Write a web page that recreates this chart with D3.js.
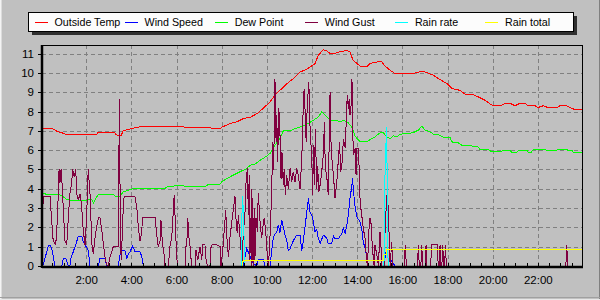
<!DOCTYPE html>
<html>
<head>
<meta charset="utf-8">
<script src="https://cdnjs.cloudflare.com/ajax/libs/d3/7.8.5/d3.min.js"></script>
<style>
  body { margin: 0; background: #c0c0c0; }
  text { font-family: "Liberation Sans", Arial, sans-serif; fill: #000; }
</style>
</head>
<body>
<div id="chart"></div>
<script>
// series names + colours (legend order)
const seriesNames = ['Outside Temp', 'Wind Speed', 'Dew Point', 'Wind Gust', 'Rain rate', 'Rain total'];
const seriesColors = ['#ff0000', '#0000ff', '#00ff00', '#800040', '#00ffff', '#ffff00'];

// axis ticks
const hourTicks = [2, 4, 6, 8, 10, 12, 14, 16, 18, 20, 22];
const valueTicks = [0, 1, 2, 3, 4, 5, 6, 7, 8, 9, 10, 11];

// times are decimal hours
const tempTime = [0, 0.10, 0.53, 0.75, 0.93, 1.15, 2.47, 2.51, 3.28, 3.31, 3.54, 3.64, 3.94, 4.30, 5.58, 6.29, 6.33, 7.48, 7.57, 7.93,
  8.02, 8.37, 8.67, 8.96, 9.26, 9.57, 9.83, 10.14, 10.36, 10.58, 10.89, 11.17, 11.47, 11.78, 12.13, 12.27, 12.49, 12.67, 12.80, 13.10,
  13.24, 13.54, 13.68, 13.82, 13.99, 14.13, 14.44, 14.57, 14.88, 15.10, 15.24, 15.46, 15.68, 16.47, 16.87, 17.14, 17.37, 17.67, 17.98, 18.20,
  18.56, 18.78, 19.09, 19.37, 19.66, 19.97, 20.33, 20.55, 20.77, 20.99, 21.21, 21.44, 21.57, 21.88, 22.01, 22.23, 22.45, 22.85, 22.98, 23.29,
  23.43, 23.65, 23.96];
const tempValue = [7.2, 7.1, 7.1, 6.95, 6.9, 6.8, 6.8, 6.9, 6.9, 6.8, 6.75, 7.0, 7.1, 7.2, 7.25, 7.25, 7.2, 7.2, 7.1, 7.1,
  7.2, 7.38, 7.47, 7.64, 7.7, 7.9, 8.16, 8.5, 8.85, 9.1, 9.45, 9.7, 10.05, 10.2, 10.48, 10.9, 11.2, 11.14, 11.0, 11.04,
  11.1, 11.17, 11.1, 10.65, 10.5, 10.35, 10.35, 10.5, 10.57, 10.57, 10.35, 10.14, 9.97, 9.97, 10.09, 10.0, 9.88, 9.66, 9.45, 9.19,
  9.1, 8.9, 8.9, 8.76, 8.59, 8.33, 8.3, 8.43, 8.43, 8.3, 8.43, 8.43, 8.3, 8.3, 8.21, 8.3, 8.21, 8.21, 8.3, 8.3,
  8.21, 8.1, 8.1];

const dewTime = [0, 0.25, 0.75, 0.92, 1.14, 1.28, 2.02, 2.25, 2.32, 2.47, 2.54, 3.20, 3.28, 3.50, 3.64, 3.94, 4.09, 5.49, 5.58, 5.85,
  5.98, 6.16, 7.04, 7.35, 7.41, 7.93, 8.00, 8.22, 8.52, 8.81, 9.11, 9.26, 9.48, 9.70, 9.99, 10.14, 10.36, 10.58, 10.73, 11.03,
  11.17, 11.47, 11.77, 12.06, 12.28, 12.43, 12.58, 12.72, 12.87, 13.10, 13.24, 13.39, 13.61, 13.76, 13.91, 14.13, 14.42, 14.57, 14.79, 15.01,
  15.16, 15.31, 15.46, 15.60, 15.75, 15.90, 16.47, 16.71, 16.86, 17.01, 17.23, 17.37, 17.67, 17.82, 18.11, 18.19, 18.48, 18.63, 19.00, 19.15,
  19.35, 19.44, 19.80, 19.96, 20.33, 20.47, 20.77, 20.85, 21.07, 21.14, 21.51, 21.58, 21.70, 21.80, 22.17, 22.40, 22.84, 22.91, 23.21, 23.35,
  23.50, 23.57, 23.96];
const dewValue = [3.81, 3.71, 3.71, 3.64, 3.45, 3.41, 3.41, 3.45, 3.27, 3.59, 3.71, 3.71, 3.62, 3.62, 3.84, 3.96, 4.02, 4.02, 4.1, 4.12,
  4.2, 4.15, 4.12, 4.15, 4.24, 4.24, 4.36, 4.53, 4.71, 4.88, 5.05, 5.22, 5.28, 5.48, 5.69, 5.83, 6.26, 6.6, 7.0, 7.0,
  7.09, 7.2, 7.35, 7.55, 7.72, 7.98, 7.81, 7.64, 7.52, 7.55, 7.47, 7.55, 7.41, 7.2, 6.72, 6.43, 6.43, 6.55, 6.69, 6.9,
  6.9, 6.69, 6.6, 6.75, 6.69, 6.83, 6.9, 7.04, 7.24, 7.04, 6.95, 6.83, 6.78, 6.66, 6.66, 6.43, 6.38, 6.26, 6.26, 6.17,
  6.17, 6.04, 6.04, 5.91, 5.91, 6.0, 6.0, 5.88, 5.88, 6.0, 6.0, 5.88, 5.88, 6.04, 6.04, 6.0, 6.0, 6.04, 6.04, 6.0,
  6.0, 5.88, 5.88];

const windTime = [0, 0.10, 0.32, 0.40, 0.47, 0.62, 0.92, 0.99, 1.09, 1.21, 1.28, 1.32, 1.43, 1.58, 1.65, 1.80, 1.87, 1.95, 2.09, 2.17,
  2.54, 2.61, 2.83, 2.91, 3.42, 3.53, 3.72, 3.80, 3.87, 3.94, 4.06, 4.16, 4.38, 4.46, 4.53, 8.96, 9.11, 9.26, 9.40, 9.55,
  9.62, 9.85, 9.92, 10.14, 10.22, 10.29, 10.44, 10.51, 10.58, 10.66, 10.81, 10.89, 10.95, 11.03, 11.17, 11.32, 11.47, 11.55, 11.62, 11.77,
  11.84, 11.91, 11.99, 12.06, 12.13, 12.21, 12.28, 12.36, 12.50, 12.65, 12.72, 12.87, 12.95, 13.02, 13.17, 13.32, 13.39, 13.47, 13.54, 13.61,
  13.68, 13.76, 13.80, 13.83, 13.91, 13.98, 14.13, 14.20, 14.27, 14.35, 14.42, 14.50, 15.16, 15.24, 15.31, 15.38, 15.46, 15.54, 15.68, 23.96];
const windValue = [0, 0.05, 1.03, 1.09, 0.95, 0, 0, 0.4, 0.4, 0, 0, 0.4, 0.74, 1.26, 1.55, 1.55, 1.26, 1.09, 0.83, 0,
  0, 0.4, 0.4, 0, 0, 0.79, 0.79, 0.4, 0.6, 0.74, 1.03, 0.74, 0.74, 0.5, 0, 0, 0.91, 0.48, 0.14, 0,
  0.35, 0.35, 0, 0, 0.83, 1.52, 1.77, 2.12, 1.72, 2.38, 1.6, 1.26, 0.8, 0.9, 1.3, 1.6, 1.6, 0.8, 1.34, 2.8,
  3.5, 2.81, 2.64, 2.29, 1.77, 1.9, 1.43, 1.17, 1.6, 1.45, 1.17, 1.17, 1.55, 1.4, 1.4, 1.69, 1.95, 1.7, 2.12, 2.64,
  3.5, 4.1, 4.54, 3.93, 3.07, 2.55, 2.29, 1.95, 1.26, 0.91, 0.48, 0, 0, 0.48, 0.9, 0.3, 0.4, 0.2, 0, 0];

const gustTime = [0.08, 0.10, 0.40, 0.47, 0.54, 0.65, 0.70, 0.74, 0.80, 0.84, 0.89, 0.93, 0.99, 1.06, 1.14, 1.21, 1.28, 1.36, 1.40, 1.47,
  1.54, 1.58, 1.65, 1.73, 1.80, 1.87, 1.95, 2.02, 2.09, 2.17, 2.25, 2.32, 2.36, 2.44, 2.54, 2.61, 2.69, 2.76, 2.83, 2.91,
  2.98, 3.06, 3.20, 3.42, 3.47, 3.52, 3.56, 3.62, 3.68, 4.16, 4.24, 4.31, 4.38, 4.46, 4.49, 5.05, 5.12, 5.19, 5.27, 5.31,
  5.37, 5.46, 5.49, 5.64, 5.71, 5.79, 5.86, 5.90, 5.97, 6.01, 6.05, 6.38, 6.41, 6.45, 6.50, 6.55, 6.60, 6.67, 6.82, 6.86,
  6.94, 7.04, 7.12, 7.16, 7.26, 7.31, 7.38, 7.48, 7.53, 7.59, 7.78, 7.93, 7.97, 8.03, 8.07, 8.12, 8.18, 8.24, 8.30, 8.37,
  8.45, 8.52, 8.59, 8.64, 8.69, 8.74, 8.78, 8.84, 8.90, 8.96, 9.03, 9.08, 9.14, 9.18, 9.22, 9.25, 9.28, 9.31, 9.34, 9.37,
  9.40, 9.43, 9.46, 9.48, 9.52, 9.58, 9.62, 9.70, 9.77, 9.85, 9.89, 9.93, 9.96, 10.02, 10.07, 10.11, 10.17, 10.22, 10.26, 10.29,
  10.32, 10.36, 10.41, 10.44, 10.48, 10.53, 10.58, 10.63, 10.67, 10.73, 10.77, 10.82, 10.88, 10.95, 11.03, 11.10, 11.17, 11.25, 11.32, 11.39,
  11.47, 11.55, 11.59, 11.65, 11.69, 11.74, 11.79, 11.86, 11.91, 11.99, 12.03, 12.06, 12.10, 12.15, 12.21, 12.25, 12.30, 12.36, 12.43, 12.50,
  12.55, 12.59, 12.65, 12.72, 12.80, 12.84, 12.89, 12.95, 13.02, 13.10, 13.17, 13.22, 13.27, 13.34, 13.39, 13.47, 13.51, 13.56, 13.61, 13.65,
  13.68, 13.73, 13.77, 13.80, 13.83, 13.91, 13.95, 13.99, 14.05, 14.10, 14.13, 14.20, 14.24, 14.27, 14.35, 14.39, 14.45, 14.50, 14.54, 14.60,
  14.65, 14.69, 14.75, 14.79, 14.87, 14.94, 15.01, 15.06, 15.09, 15.19, 15.24, 15.31, 15.35, 15.40, 15.46, 15.53, 15.57, 16.08, 16.13, 16.18,
  16.67, 16.71, 16.75, 16.82, 16.86, 16.90, 17.01, 17.05, 17.09, 17.25, 17.30, 17.55, 17.59, 17.63, 17.67, 17.71, 17.75, 17.79, 17.83, 17.87,
  17.91, 17.95, 23.24, 23.28, 23.32];
const gustValue = [2.9, 3.6, 3.6, 2.4, 1.3, 1.1, 1.86, 2.9, 5.0, 4.3, 5.0, 4.3, 2.9, 1.3, 1.1, 2.5, 3.75, 4.3, 5.0, 4.6,
  5.0, 3.75, 3.4, 3.75, 3.1, 1.86, 1.1, 2.5, 5.0, 3.75, 1.15, 0.6, 1.15, 1.86, 2.5, 2.5, 1.86, 1.15, 0.48, 0.05,
  0, 0.48, 1.0, 1.0, 8.65, 1.0, 0.3, 2.46, 3.6, 3.6, 3.07, 2.0, 1.3, 1.7, 2.5, 2.5, 1.7, 1.0, 1.3, 2.4,
  1.3, 0.48, 0, 0, 1.0, 1.5, 2.9, 3.7, 1.5, 0.48, 0, 0, 1.0, 1.0, 2.5, 1.5, 1.0, 0, 0, 0.83,
  0.3, 1.0, 0.31, 1.1, 1.1, 0.3, 0, 0, 1.0, 1.1, 1.1, 1.0, 0, 0.6, 1.15, 1.94, 2.9, 1.3, 0.48, 1.5,
  2.3, 2.98, 3.6, 2.3, 1.7, 2.64, 2.0, 1.09, 0.14, 1.77, 2.64, 4.36, 5.05, 2.64, 4.71, 0.3, 2.5, 0, 4.0, 0.2,
  2.5, 0, 3.0, 0.5, 2.5, 1.77, 3.76, 2.3, 1.43, 2.3, 2.5, 2.0, 1.6, 0.57, 0, 0.8, 2.3, 4.2, 6.43, 5.0,
  6.43, 9.7, 6.43, 7.81, 5.4, 8.2, 6.95, 4.5, 5.9, 4.2, 5.05, 3.67, 4.7, 4.0, 5.05, 4.36, 4.88, 4.36, 5.05, 4.7,
  4.0, 5.57, 7.47, 9.19, 8.16, 6.43, 8.33, 9.53, 7.29, 5.57, 3.67, 6.26, 4.2, 7.12, 4.0, 5.2, 3.84, 4.2, 4.88, 5.74,
  7.47, 5.0, 4.7, 3.67, 9.02, 6.43, 5.4, 4.7, 3.5, 4.36, 5.57, 6.43, 4.88, 5.4, 6.6, 6.09, 7.29, 8.84, 8.16, 8.67,
  7.81, 8.33, 9.7, 7.29, 5.74, 6.09, 4.7, 6.09, 6.09, 4.7, 3.33, 2.64, 2.3, 1.95, 1.43, 0.74, 0, 1.09, 2.47, 2.47,
  1.43, 0.74, 0, 1.09, 0.57, 0, 1.77, 0.9, 0, 0, 1.95, 3.67, 3.67, 2.12, 0, 1.26, 0, 0, 1.09, 0,
  0, 1.09, 0, 0, 1.09, 0, 0, 1.09, 0, 0, 1.09, 1.09, 0, 0, 1.09, 0, 0, 1.09, 0, 0,
  1.09, 0, 0, 1.09, 0];

const rainRateTime = [0, 8.86, 8.90, 8.93, 8.96, 9.03, 15.16, 15.19, 15.24, 15.31, 15.35, 15.40, 23.96];
const rainRateValue = [0, 0, 2.7, 3.6, 2.7, 0, 0, 0.3, 5.4, 7.2, 0.6, 0, 0];

const rainTotalTime = [0, 8.90, 8.96, 15.16, 15.19, 15.28, 15.31, 23.96];
const rainTotalValue = [0, 0, 0.31, 0.31, 0.57, 0.57, 0.88, 0.88];

const seriesData = [
  [tempTime, tempValue],
  [windTime, windValue],
  [dewTime, dewValue],
  [gustTime, gustValue],
  [rainRateTime, rainRateValue],
  [rainTotalTime, rainTotalValue]
];

const width = 600, height = 300;
const plot = { left: 42, right: 582, top: 45, bottom: 266 };

const x = d3.scaleLinear().domain([0, 24]).range([41, 583]);
const y = d3.scaleLinear().domain([0, 11.45]).range([266, 45]);

const svg = d3.select("#chart").append("svg")
  .attr("width", width)
  .attr("height", height);

// window background with bevel
svg.append("rect").attr("width", width).attr("height", height).attr("fill", "#c0c0c0");
svg.append("line").attr("x1", 0.5).attr("x2", 0.5).attr("y1", 0).attr("y2", height)
  .attr("stroke", "#f4f4f4").attr("stroke-width", 1);
svg.append("line").attr("x1", 1.5).attr("x2", 1.5).attr("y1", 0).attr("y2", height - 1)
  .attr("stroke", "#dcdcdc").attr("stroke-width", 1);
svg.append("line").attr("x1", width - 0.5).attr("x2", width - 0.5).attr("y1", 0).attr("y2", height)
  .attr("stroke", "#808080");
svg.append("line").attr("x1", 0).attr("x2", width).attr("y1", height - 0.5).attr("y2", height - 0.5)
  .attr("stroke", "#e8e8e8");
svg.append("line").attr("x1", 0).attr("x2", width).attr("y1", height - 2.5).attr("y2", height - 2.5)
  .attr("stroke", "#a0a0a0");

// grid
const grid = svg.append("g")
  .attr("stroke", "#808080")
  .attr("stroke-dasharray", "4,3")
  .attr("shape-rendering", "crispEdges");

grid.selectAll(".h")
  .data(valueTicks.filter(d => d > 0))
  .enter().append("line")
  .attr("x1", plot.left).attr("x2", plot.right)
  .attr("y1", d => Math.round(y(d)) + 0.5).attr("y2", d => Math.round(y(d)) + 0.5);

grid.selectAll(".v")
  .data(hourTicks)
  .enter().append("line")
  .attr("x1", d => Math.round(x(d)) + 0.5).attr("x2", d => Math.round(x(d)) + 0.5)
  .attr("y1", plot.top).attr("y2", plot.bottom);

// series lines
svg.append("clipPath").attr("id", "clip")
  .append("rect")
  .attr("x", plot.left).attr("y", plot.top)
  .attr("width", plot.right - plot.left).attr("height", plot.bottom - plot.top + 1);

const line = d3.line()
  .x(d => x(d[0]))
  .y(d => y(d[1]));

svg.append("g")
  .attr("clip-path", "url(#clip)")
  .selectAll("path")
  .data(seriesData)
  .enter().append("path")
  .attr("fill", "none")
  .attr("stroke", (d, i) => seriesColors[i])
  .attr("stroke-width", 1)
  .attr("shape-rendering", "crispEdges")
  .attr("d", d => line(d[0].map((t, j) => [t, d[1][j]])));

// frame
svg.append("rect")
  .attr("x", plot.left + 0.5).attr("y", plot.top + 0.5)
  .attr("width", plot.right - plot.left - 0.5).attr("height", plot.bottom - plot.top)
  .attr("fill", "none").attr("stroke", "#000").attr("stroke-width", 1)
  .attr("shape-rendering", "crispEdges");

// thick axes
svg.append("line")
  .attr("x1", plot.left).attr("x2", plot.left)
  .attr("y1", plot.top).attr("y2", plot.bottom + 2)
  .attr("stroke", "#000").attr("stroke-width", 2.5);
svg.append("line")
  .attr("x1", plot.left).attr("x2", plot.right + 1)
  .attr("y1", plot.bottom + 1).attr("y2", plot.bottom + 1)
  .attr("stroke", "#000").attr("stroke-width", 2.5);

// y ticks and labels
svg.selectAll(".yt")
  .data(valueTicks)
  .enter().append("line")
  .attr("x1", plot.left - 4).attr("x2", plot.left)
  .attr("y1", d => Math.round(y(d)) + 0.5).attr("y2", d => Math.round(y(d)) + 0.5)
  .attr("stroke", "#000");

svg.selectAll(".yl")
  .data(valueTicks)
  .enter().append("text")
  .attr("x", 34)
  .attr("y", d => y(d) + 4)
  .attr("text-anchor", "end")
  .attr("font-size", "11.5px")
  .text(d => d);

// x minor ticks every half hour
svg.selectAll(".xm")
  .data(d3.range(0.5, 24, 0.5))
  .enter().append("line")
  .attr("x1", d => Math.round(x(d)) + 0.5).attr("x2", d => Math.round(x(d)) + 0.5)
  .attr("y1", plot.bottom - 3).attr("y2", plot.bottom)
  .attr("stroke", "#000");

svg.selectAll(".xl")
  .data(hourTicks)
  .enter().append("text")
  .attr("x", d => x(d) + 0.5)
  .attr("y", 284)
  .attr("text-anchor", "middle")
  .attr("font-size", "11.5px")
  .text(d => d + ":00");

// legend
const legend = svg.append("g");
legend.append("rect")
  .attr("x", 32).attr("y", 16).attr("width", 545).attr("height", 19)
  .attr("fill", "#303030");
legend.append("rect")
  .attr("x", 28.5).attr("y", 12.5).attr("width", 545).attr("height", 19)
  .attr("fill", "#fcfcfc").attr("stroke", "#000").attr("stroke-width", 1);

const items = legend.selectAll(".item")
  .data(seriesNames)
  .enter().append("g")
  .attr("transform", (d, i) => "translate(" + (34.5 + i * 90.1) + ",22)");

items.append("line")
  .attr("x1", 0).attr("x2", 13)
  .attr("y1", 0.5).attr("y2", 0.5)
  .attr("stroke", (d, i) => seriesColors[i])
  .attr("stroke-width", 1)
  .attr("shape-rendering", "crispEdges");

items.append("text")
  .attr("x", 20)
  .attr("y", 4)
  .attr("font-size", "10.7px")
  .text(d => d);
</script>
</body>
</html>
